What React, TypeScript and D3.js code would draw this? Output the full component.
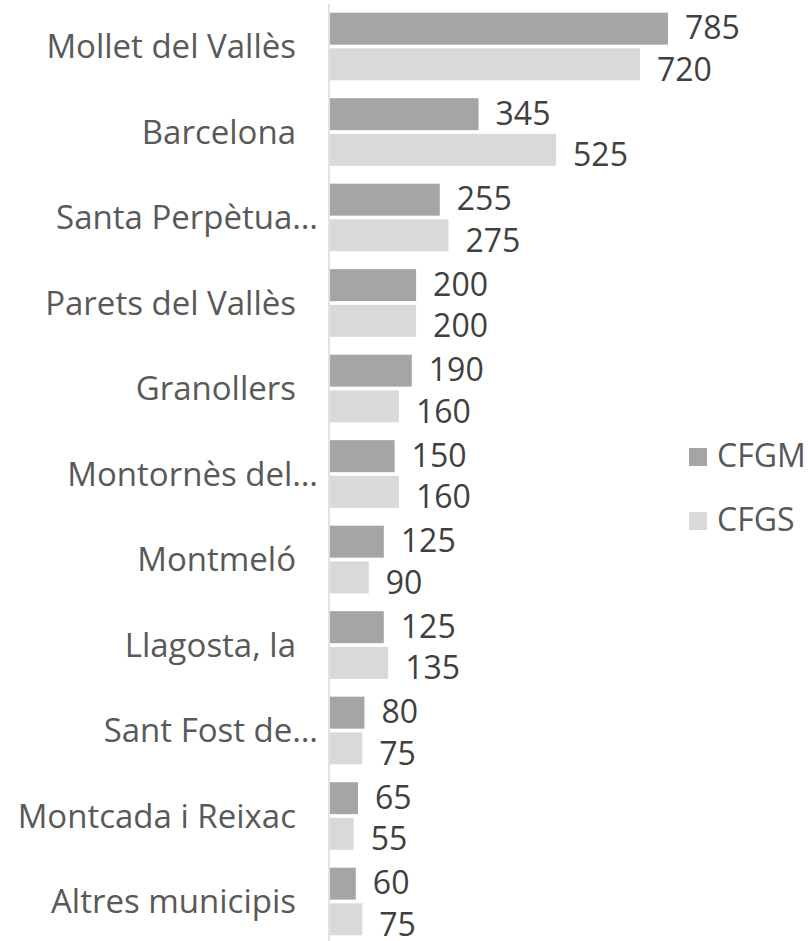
import React from 'react';
import * as d3 from 'd3';

const categories = [
  'Mollet del Vallès',
  'Barcelona',
  'Santa Perpètua…',
  'Parets del Vallès',
  'Granollers',
  'Montornès del…',
  'Montmeló',
  'Llagosta, la',
  'Sant Fost de…',
  'Montcada i Reixac',
  'Altres municipis',
];
const seriesNames = ['CFGM', 'CFGS'];
const cfgm = [785, 345, 255, 200, 190, 150, 125, 125, 80, 65, 60];
const cfgs = [720, 525, 275, 200, 160, 160, 90, 135, 75, 55, 75];

const width = 808;
const height = 941;
const axisX = 329;
const font = '"Open Sans", sans-serif';
const colors = ['#a5a5a5', '#d9d9d9'];
// small vertical nudge of the value labels, like Excel spreads them apart
const labelShift = [-1, 5];

export default function App() {
  const values = [cfgm, cfgs];

  // category bands and inner series bands
  const y0 = d3.scaleBand<string>()
    .domain(categories)
    .range([3.75, 944.25])
    .padding(0);
  const y1 = d3.scaleBand<string>()
    .domain(seriesNames)
    .range([0, y0.bandwidth()])
    .paddingInner(0.104)
    .paddingOuter(0.25);
  const x = d3.scaleLinear()
    .domain([0, 785])
    .range([axisX + 1, 668]);

  return (
    <svg width={width} height={height} style={{ position: 'absolute', left: 0, top: 0, background: '#fff' }}
      fontFamily={font}>
      {categories.map((c, i) => (
        <g key={c} transform={`translate(0, ${y0(c)})`}>
          <text
            x={c.endsWith('…') ? axisX - 11 : axisX - 33}
            y={y0.bandwidth() / 2}
            dy="0.36em"
            textAnchor="end"
            fontSize={33}
            fill="#595959">
            {c}
          </text>
          {seriesNames.map((s, j) => {
            const v = values[j][i];
            const by = y1(s) as number;
            return (
              <g key={s}>
                <rect x={x(0)} y={by} width={x(v) - x(0)} height={y1.bandwidth()} fill={colors[j]} />
                <text
                  x={x(v) + 17}
                  y={by + y1.bandwidth() / 2 + labelShift[j]}
                  dy="0.36em"
                  fontSize={32}
                  fill="#404040">
                  {v}
                </text>
              </g>
            );
          })}
        </g>
      ))}
      {/* vertical category axis */}
      <line x1={axisX} x2={axisX} y1={4} y2={height} stroke="#d9d9d9" strokeWidth={1.5} />
      {/* legend */}
      {seriesNames.map((s, j) => (
        <g key={s} transform={`translate(689, ${448 + j * 64})`}>
          <rect width={18} height={18} fill={colors[j]} />
          <text x={28} y={19} fontSize={32} fill="#595959">{s}</text>
        </g>
      ))}
    </svg>
  );
}
